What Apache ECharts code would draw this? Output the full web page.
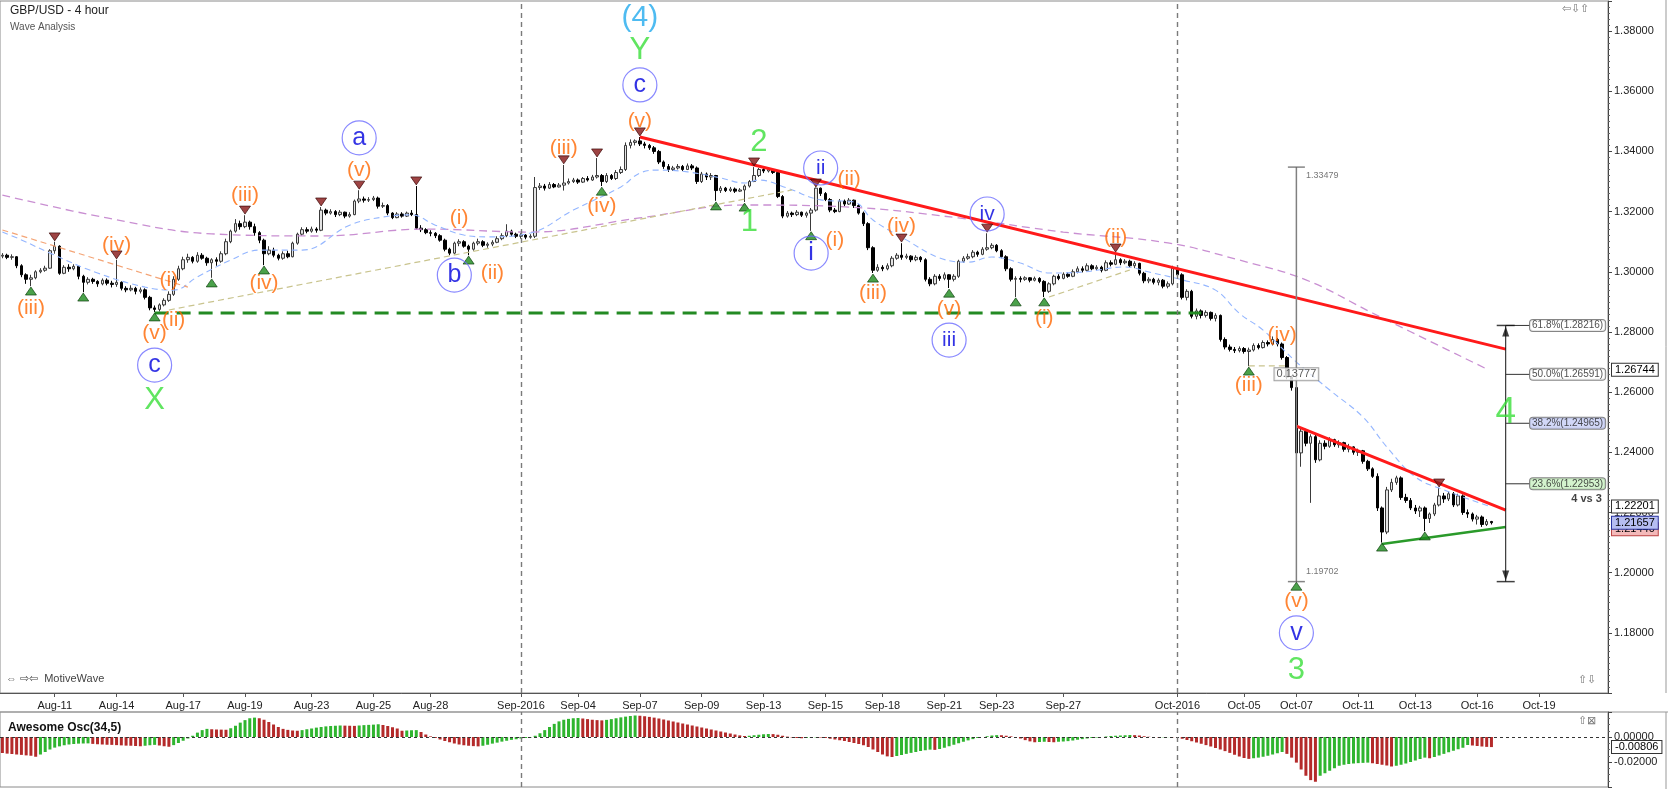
<!DOCTYPE html>
<html><head><meta charset="utf-8">
<script src="https://cdn.jsdelivr.net/npm/echarts/dist/echarts.min.js"></script>
<style>html,body{margin:0;padding:0;background:#fff}#c{width:1668px;height:789px}</style>
</head><body><div id="c"></div>
<script>
// ---------------- DATA ----------------
const SLOT_COUNT = 338;
const dateTicks = [['Aug-11',11],['Aug-14',24],['Aug-17',38],['Aug-19',51],['Aug-23',65],['Aug-25',78],['Aug-28',90],['Sep-2016',109],['Sep-04',121],['Sep-07',134],['Sep-09',147],['Sep-13',160],['Sep-15',173],['Sep-18',185],['Sep-21',198],['Sep-23',209],['Sep-27',223],['Oct-2016',247],['Oct-05',261],['Oct-07',272],['Oct-11',285],['Oct-13',297],['Oct-16',310],['Oct-19',323]];
const monthSeparators = [109, 247];
const priceTicks = {min: 1.16, max: 1.39, step: 0.02};
const oscTicks = {min: -0.04, max: 0.02, step: 0.02};

// GBP/USD 4h candles, prices in pips (x 1/10000); open = previous close
const firstOpen = 13052;
const closes = [
13055,13048,13050,13020,12990,12975,12980,13000,13005,13012,
13070,13085,12995,13015,13010,13018,12985,12965,12975,12968,
12960,12972,12962,12958,12965,12945,12940,12945,12935,12940,
12915,12880,12875,12890,12905,12925,12975,13010,13040,13048,
13035,13055,13045,13030,13040,13035,13060,13100,13135,13160,
13150,13165,13150,13130,13105,13060,13072,13055,13045,13060,
13050,13095,13125,13140,13135,13142,13138,13205,13195,13200,
13190,13198,13185,13190,13235,13242,13238,13240,13245,13218,
13220,13195,13180,13192,13185,13195,13190,13145,13140,13130,
13128,13120,13105,13075,13062,13095,13100,13085,13075,13095,
13100,13088,13092,13098,13110,13120,13135,13125,13118,13122,
13115,13118,13280,13285,13278,13290,13282,13288,13295,13300,
13305,13298,13310,13305,13315,13320,13300,13320,13310,13330,
13340,13420,13430,13435,13425,13420,13412,13400,13365,13350,
13340,13345,13350,13340,13352,13345,13300,13325,13315,13320,
13270,13278,13270,13275,13268,13272,13285,13300,13320,13340,
13335,13340,13330,13250,13185,13195,13190,13198,13188,13195,
13205,13278,13260,13240,13205,13200,13235,13225,13238,13220,
13195,13160,13080,13005,13015,13010,13020,13045,13055,13048,
13052,13040,13048,13040,12975,12960,12985,12978,12990,12975,
12985,13035,13045,13050,13065,13058,13075,13080,13088,13070,
13050,13010,12975,12978,12975,12980,12972,12978,12968,12935,
12960,12985,12978,12992,12985,13000,13010,13005,13020,13010,
13015,13005,13030,13025,13040,13030,13035,13020,13028,12995,
12970,12975,12965,12972,12952,12960,13012,12990,12915,12935,
12852,12870,12855,12865,12845,12855,12775,12750,12742,12738,
12745,12735,12740,12755,12748,12765,12760,12775,12760,12715,
12650,12615,12398,12470,12430,12452,12375,12430,12420,12442,
12425,12432,12410,12418,12400,12405,12370,12345,12320,12215,
12135,12275,12300,12315,12250,12240,12215,12205,12215,12180,
12195,12225,12255,12245,12262,12225,12255,12200,12195,12178,
12185,12160,12170,12166];
const highs = [
13062,13060,13058,13052,13025,12995,12990,13005,13012,13020,
13075,13100,13088,13022,13025,13025,13020,12990,12982,12980,
12972,12978,12978,12970,13040,12968,12952,12955,12950,12948,
12945,12920,12888,12895,12912,12935,12985,13020,13050,13060,
13052,13065,13062,13050,13045,13048,13068,13110,13140,13175,
13170,13188,13170,13160,13135,13110,13085,13080,13060,13068,
13070,13100,13130,13148,13148,13150,13148,13215,13210,13208,
13205,13205,13200,13198,13240,13271,13250,13248,13252,13250,
13230,13225,13198,13198,13198,13200,13205,13285,13155,13145,
13138,13132,13125,13110,13080,13100,13108,13105,13090,13100,
13110,13105,13098,13105,13118,13128,13158,13140,13130,13128,
13125,13125,13315,13295,13292,13298,13295,13295,13355,13310,
13312,13310,13315,13318,13322,13378,13325,13328,13325,13338,
13350,13430,13440,13440,13448,13432,13425,13418,13405,13370,
13358,13352,13358,13355,13360,13358,13350,13332,13330,13328,
13322,13285,13282,13282,13280,13278,13290,13305,13348,13345,
13345,13346,13342,13335,13255,13202,13200,13205,13200,13200,
13212,13280,13280,13265,13245,13212,13242,13240,13245,13240,
13225,13200,13165,13085,13025,13022,13028,13052,13062,13095,
13060,13055,13055,13052,13045,12982,12992,12992,12998,12992,
12992,13040,13052,13060,13072,13070,13082,13128,13095,13092,
13075,13055,13015,12985,12985,12985,12982,12984,12982,12972,
12965,12990,12992,12998,12998,13008,13018,13018,13028,13025,
13022,13020,13038,13038,13062,13045,13042,13040,13035,13030,
13000,12982,12980,12978,12976,12968,13020,13015,12995,12942,
12940,12878,12875,12872,12868,12862,12858,12782,12758,12750,
12752,12750,12748,12762,12762,12772,12772,12785,12780,12765,
12720,12655,12620,12480,12478,12460,12462,12440,12440,12450,
12445,12440,12435,12428,12420,12412,12408,12375,12350,12330,
12220,12285,12312,12322,12320,12262,12248,12225,12222,12220,
12200,12232,12282,12265,12270,12268,12262,12260,12210,12200,
12192,12190,12178,12172];
const lows = [
13045,13042,13040,13012,12982,12960,12952,12975,12995,13000,
13010,13060,12990,12992,13000,13005,12975,12932,12958,12960,
12950,12955,12955,12948,12950,12938,12932,12935,12925,12928,
12908,12872,12866,12868,12885,12900,12920,12970,13005,13030,
13028,13030,13040,13020,12980,13020,13030,13055,13095,13130,
13140,13145,13140,13120,13095,13022,13055,13048,13038,13040,
13045,13048,13090,13120,13128,13130,13130,13135,13188,13190,
13182,13185,13178,13180,13188,13228,13230,13232,13235,13210,
13212,13188,13175,13178,13180,13182,13185,13140,13132,13125,
13118,13112,13100,13068,13055,13058,13085,13080,13055,13070,
13088,13082,13080,13085,13095,13105,13115,13118,13112,13110,
13108,13110,13112,13272,13270,13275,13278,13280,13270,13290,
13295,13292,13295,13300,13302,13310,13285,13295,13305,13305,
13325,13335,13410,13420,13418,13410,13405,13392,13358,13342,
13332,13335,13340,13335,13338,13338,13292,13295,13305,13305,
13236,13262,13265,13265,13262,13265,13232,13280,13298,13315,
13328,13330,13325,13245,13178,13180,13182,13185,13182,13180,
13136,13200,13252,13235,13198,13195,13198,13218,13222,13212,
13190,13152,13072,12996,13000,13002,13005,13015,13040,13040,
13042,13032,13035,13032,12968,12952,12955,12970,12972,12946,
12968,12980,13030,13040,13045,13050,13055,13070,13075,13065,
13045,13002,12968,12916,12965,12970,12965,12968,12962,12916,
12930,12955,12972,12975,12980,12982,12995,12998,13002,13005,
13005,12998,13002,13018,13022,13022,13025,13015,13012,12988,
12962,12962,12958,12955,12945,12945,12955,12982,12908,12905,
12845,12842,12845,12848,12838,12835,12768,12742,12735,12730,
12732,12728,12686,12735,12742,12745,12752,12755,12752,12708,
12642,12605,11970,12352,12420,12232,12365,12370,12410,12415,
12418,12415,12402,12400,12392,12388,12362,12338,12315,12205,
12100,12128,12268,12292,12242,12232,12208,12195,12185,12138,
12165,12188,12220,12232,12238,12218,12220,12192,12182,12170,
12160,12152,12155,12160];

// Awesome Oscillator (34,5), x 1/10000
const aoValues = [
-128,-133,-136,-140,-143,-147,-150,-158,-140,-120,
-100,-85,-75,-66,-60,-56,-53,-52,-51,-55,
-58,-60,-62,-63,-65,-67,-69,-70,-72,-74,
-70,-66,-63,-68,-74,-78,-65,-48,-30,-12,
10,35,55,65,62,60,59,58,70,90,
115,135,150,155,150,138,120,100,80,65,
57,52,50,55,62,68,75,80,85,88,
90,92,91,90,89,92,95,97,99,102,
96,88,78,68,50,52,54,55,40,20,
5,-8,-20,-32,-42,-52,-60,-66,-70,-73,
-75,-70,-62,-53,-45,-37,-30,-23,-18,-12,
-8,-3,10,30,55,80,105,125,138,145,
150,152,148,143,138,135,133,137,143,150,
157,163,168,172,170,166,161,155,148,140,
132,124,116,108,100,92,84,76,68,60,
52,44,36,28,20,13,8,10,14,18,
22,24,23,18,10,3,-4,-8,-10,-8,
-5,-3,-4,-8,-14,-20,-26,-32,-40,-48,
-56,-66,-80,-100,-120,-140,-155,-160,-152,-144,
-135,-127,-120,-112,-106,-101,-103,-96,-86,-74,
-62,-50,-38,-27,-17,-8,0,6,12,15,
14,10,5,0,-12,-25,-35,-42,-40,-38,
-40,-42,-38,-36,-33,-28,-22,-17,-12,-8,
-4,0,4,8,10,12,14,16,15,12,
6,2,-1,-3,-2,-1,-2,-6,-14,-24,
-34,-44,-54,-65,-76,-88,-100,-113,-127,-142,
-156,-168,-175,-170,-165,-158,-150,-140,-130,-120,
-135,-165,-205,-260,-310,-345,-358,-310,-290,-270,
-250,-230,-222,-216,-212,-209,-207,-205,-210,-216,
-222,-228,-236,-230,-222,-212,-200,-188,-176,-165,
-170,-160,-148,-135,-122,-110,-98,-86,-64,-68,
-72,-76,-79,-80.6];

// moving averages: [bar, pips]
const slowMA = [[0,13255],[22,13179],[44,13126],[67,13119],[89,13142],[111,13132],[134,13179],[156,13222],[178,13215],[201,13179],[223,13132],[245,13096],[260,13039],[274,12973],[288,12863],[312,12677]];
const fastMA = [[0,13132],[4,13106],[10,13062],[20,12996],[30,12949],[36,12939],[41,12983],[48,13039],[54,13072],[63,13072],[73,13155],[80,13182],[86,13189],[91,13155],[97,13122],[102,13116],[111,13129],[120,13205],[130,13282],[134,13328],[138,13338],[144,13332],[151,13312],[156,13295],[159,13305],[165,13278],[172,13239],[179,13232],[183,13172],[190,13106],[197,13046],[203,13032],[208,13049],[214,13029],[220,12996],[227,12999],[236,13016],[241,12999],[248,12973],[255,12939],[260,12862],[265,12806],[272,12700],[279,12607],[286,12517],[291,12418],[297,12318],[303,12275],[313,12218]];

// drawn trend lines: [bar, pips]
const mainResistance = [[134,13448],[316,12743]];
const triangleTop = [[272,12487],[316,12208]];
const triangleBottom = [[290,12095],[316,12152]];
const supportLevel = [[32,12863],[252,12863]];
const guideLines = [
  [[35,12873],[166,13272]],
  [[220,12916],[237,13006]],
  [[262,12687],[270,12687]]
];
const leftGuide = [[0,13139],[39,12949]];

// wave labels: [text, bar, pips]
const minorWaves = [['(iii)',6,12880],['(iv)',24,13089],['(i)',35,12973],['(v)',32,12797],['(ii)',36,12840],['(iii)',51,13255],['(iv)',55,12963],['(v)',75,13338],['(i)',96,13179],['(ii)',103,12996],['(iii)',118,13411],['(iv)',126,13219],['(v)',134,13501],['(i)',175,13106],['(ii)',178,13308],['(iii)',183,12930],['(iv)',189,13152],['(v)',199,12876],['(i)',219,12846],['(ii)',234,13116],['(iii)',262,12624],['(iv)',269,12790],['(v)',272,11906]];
const primaryWaves = [['Y',134,13737],['X',32,12571],['2',159,13431],['1',157,13165],['3',272,11676]];
const wave4 = [['4',316,12531]];
const cycleWaves = [['(4)',134,13843]];
const circledWaves = [['c',134,13621],['a',75,13445],['c',32,12690],['b',95,12989],['ii',172,13345],['i',170,13062],['iii',199,12773],['iv',207,13192],['v',272,11800]];
const swingLows = [[6,12936],[17,12916],[32,12850],[44,12963],[55,13006],[98,13039],[126,13268],[150,13219],[156,13215],[170,13120],[183,12979],[199,12929],[213,12900],[219,12900],[262,12670],[272,11955],[290,12085],[299,12122]];
const swingHighs = [[11,13116],[24,13056],[51,13205],[67,13232],[75,13288],[87,13302],[118,13372],[125,13395],[134,13465],[158,13365],[171,13295],[189,13112],[207,13145],[234,13079],[302,12298]];

// measure & fibonacci tools
const measureBar = 272, measureHigh = 1.33479, measureLow = 1.19702;
const fibBar = 316, fibLabelBar = 321;
const fibRatios = [0.618, 0.5, 0.382, 0.236];
const fibColors = ['#ffffff', '#ffffff', '#c6cdf5', '#c9f0c2'];
const noteText = ['4 vs 3', 333, 12245];
const priceTags = [
  {v: 1.26744, bg: '#ffffff', bc: '#333'},
  {v: 1.22201, bg: '#ffffff', bc: '#333'},
  {v: 1.21440, bg: '#f3b9b9', bc: '#b44'},
  {v: 1.21657, bg: '#b6bdf2', bc: '#2a35a0'}
];

// ---------------- BUILD ----------------
const FONT = 'Liberation Sans, Arial, Helvetica, sans-serif';
const P = v => v / 10000;
const pts = arr => arr.map(([i, v]) => [i, P(v)]);
const categories = Array.from({length: SLOT_COUNT}, (_, i) => '#' + i);
dateTicks.forEach(([t, i]) => { categories[i] = t; });
const isTick = (idx, val) => typeof val === 'string' && val.charAt(0) !== '#';

const candleData = closes.map((c, i) => {
  const o = i === 0 ? firstOpen : closes[i - 1];
  const h = Math.max(highs[i], o, c), l = Math.min(lows[i], o, c);
  return [P(o), P(c), P(l), P(h)];
});
const aoData = aoValues.map((v, i) => ({
  value: v / 10000,
  itemStyle: {color: (i > 0 && v > aoValues[i - 1]) ? '#2fb52f' : '#b42a2a'}
}));

function lineSeries(data, color, width, type, z, extra) {
  return Object.assign({
    type: 'line', xAxisIndex: 0, yAxisIndex: 0, data, symbol: 'none', silent: true, z: z || 4,
    lineStyle: {color, width, type: type || 'solid'}, animation: false
  }, extra || {});
}
function textSeries(items, color, size, weight, z) {
  return {
    type: 'scatter', xAxisIndex: 0, yAxisIndex: 0, silent: true, z: z || 10,
    symbol: 'circle', symbolSize: 1, itemStyle: {color: 'rgba(0,0,0,0)'},
    label: {show: true, position: 'inside', color, fontSize: size, fontFamily: FONT, fontWeight: weight || 'normal', formatter: p => p.data.name},
    data: items.map(([t, i, v]) => ({name: t, value: [i, P(v)]}))
  };
}
function tagLabel(text, bg, bc) {
  return {show: true, position: 'end', distance: 4, formatter: text, fontSize: 11, fontFamily: FONT, color: '#000',
    backgroundColor: bg, borderColor: bc, borderWidth: 1, padding: [1, 3, 0, 3]};
}
const hiddenLine = {color: 'rgba(0,0,0,0)', width: 1, type: 'solid'};

const fibLevels = fibRatios.map(r => measureLow + r * (measureHigh - measureLow));
const sepLine = {lineStyle: {color: '#7a7a7a', type: [5, 4], width: 1.4}};
const lastAO = aoValues[aoValues.length - 1] / 10000;

const series = [
  {
    type: 'candlestick', name: 'GBP/USD', xAxisIndex: 0, yAxisIndex: 0, data: candleData, barWidth: 3, z: 2,
    itemStyle: {color: '#e4e4e4', color0: '#000', borderColor: '#3a3a3a', borderColor0: '#000', borderWidth: 1},
    markLine: {silent: true, symbol: 'none', label: {show: false}, animation: false,
      data: monthSeparators.map(i => Object.assign({xAxis: i}, sepLine))}
  },
  lineSeries(pts(slowMA), '#c98fd2', 1.3, [8, 5], 3, {smooth: 0.4}),
  {type: 'line', xAxisIndex: 0, yAxisIndex: 0, data: [], silent: true, z: 12,
    markLine: {silent: true, symbol: 'none', animation: false, precision: 5,
      data: priceTags.map(t => ({yAxis: t.v, lineStyle: hiddenLine, label: tagLabel(t.v.toFixed(5), t.bg, t.bc)}))}},
  lineSeries(pts(fastMA), '#94b6ff', 1.1, [6, 4], 3, {smooth: 0.4}),
  lineSeries(pts(leftGuide), '#f4a577', 1.2, [6, 4], 3),
  ...guideLines.map(g => lineSeries(pts(g), '#c9c48e', 1.2, [6, 4], 3)),
  lineSeries(pts(supportLevel), '#238a23', 3, [14, 8], 4),
  lineSeries(pts(mainResistance), '#ff1a1a', 3, 'solid', 5),
  lineSeries(pts(triangleTop), '#ff1a1a', 3, 'solid', 5),
  lineSeries(pts(triangleBottom), '#2a9a2a', 2.5, 'solid', 5),
  // measure tool
  lineSeries([[measureBar, measureHigh], [measureBar, measureLow]], '#808080', 1.5, 'solid', 6),
  {type: 'scatter', silent: true, z: 6, symbol: 'rect', symbolSize: [17, 1.5], itemStyle: {color: '#666'},
    data: [[measureBar, measureHigh], [measureBar, measureLow]]},
  {type: 'scatter', silent: true, z: 11, symbol: 'circle', symbolSize: 1, itemStyle: {color: 'rgba(0,0,0,0)'},
    data: [
      {value: [measureBar, measureHigh], label: {show: true, position: 'right', distance: 9, offset: [0, 8], formatter: measureHigh.toFixed(5), fontSize: 9, color: '#555', fontFamily: FONT}},
      {value: [measureBar, measureLow], label: {show: true, position: 'right', distance: 9, offset: [0, -10], formatter: measureLow.toFixed(5), fontSize: 9, color: '#555', fontFamily: FONT}},
      {value: [measureBar, (measureHigh + measureLow) / 2], label: {show: true, position: 'inside', formatter: (measureHigh - measureLow).toFixed(5), fontSize: 11, color: '#333', fontFamily: FONT, backgroundColor: '#fff', borderColor: '#888', borderWidth: 1, padding: [1, 2, 0, 2]}}
    ]},
  // fibonacci tool
  lineSeries([[fibBar, fibLevels[0]], [fibBar, measureLow]], '#111', 1, 'solid', 6),
  ...fibLevels.map(lv => lineSeries([[fibBar, lv], [fibLabelBar, lv]], '#333', 1, 'solid', 6)),
  {type: 'scatter', silent: true, z: 6, symbol: 'rect', symbolSize: [18, 1.5], itemStyle: {color: '#111'},
    data: [[fibBar, fibLevels[0]], [fibBar, measureLow]]},
  {type: 'scatter', silent: true, z: 6, symbol: 'triangle', symbolSize: [7, 10], itemStyle: {color: '#111'},
    data: [{value: [fibBar, fibLevels[0]], symbolOffset: [0, 6]}, {value: [fibBar, measureLow], symbolOffset: [0, -6], symbolRotate: 180}]},
  {type: 'scatter', silent: true, z: 11, symbol: 'circle', symbolSize: 1, itemStyle: {color: 'rgba(0,0,0,0)'},
    data: fibLevels.map((lv, k) => ({value: [fibLabelBar, lv], label: {show: true, position: 'right', distance: 0,
      formatter: (fibRatios[k] * 100).toFixed(1) + '%(' + lv.toFixed(5) + ')', fontSize: 10, color: '#222', fontFamily: FONT,
      backgroundColor: fibColors[k], borderColor: '#666', borderWidth: 1, borderRadius: 3, padding: [1, 2, 0, 2]}}))},
  // swing markers
  {type: 'scatter', silent: true, z: 7, symbol: 'triangle', symbolSize: [11, 8],
    itemStyle: {color: '#1d8a1d', borderColor: '#063806', borderWidth: 0.8}, data: pts(swingLows)},
  {type: 'scatter', silent: true, z: 7, symbol: 'triangle', symbolSize: [11, 8], symbolRotate: 180,
    itemStyle: {color: '#861515', borderColor: '#300', borderWidth: 0.8}, data: pts(swingHighs)},
  // wave labels
  textSeries(minorWaves, '#ff6600', 21),
  textSeries(primaryWaves, '#3ade3a', 31),
  textSeries(wave4, '#3ade3a', 37),
  textSeries(cycleWaves, '#22aaee', 30),
  {type: 'scatter', silent: true, z: 9, symbol: 'circle', symbolSize: 34,
    itemStyle: {color: 'rgba(255,255,255,0)', borderColor: '#6c6cff', borderWidth: 1.2},
    label: {show: true, position: 'inside', color: '#0000dd', fontFamily: FONT, formatter: p => p.data.name},
    data: circledWaves.map(([t, i, v]) => ({name: t, value: [i, P(v)], label: {fontSize: t.length > 1 ? 21 : 25}}))},
  textSeries([noteText], '#111', 11, 'bold'),
  // oscillator
  {type: 'bar', name: 'Awesome Osc', xAxisIndex: 1, yAxisIndex: 1, data: aoData, barWidth: 3, silent: true,
    markLine: {silent: true, symbol: 'none', animation: false,
      data: [
        {yAxis: 0, lineStyle: {color: '#333', type: [3, 3], width: 1}, label: {show: false}},
        ...monthSeparators.map(i => Object.assign({xAxis: i, label: {show: false}}, sepLine))
      ]}},
  {type: 'line', xAxisIndex: 1, yAxisIndex: 1, data: [], silent: true, z: 12,
    markLine: {silent: true, symbol: 'none', animation: false, precision: 5,
      data: [{yAxis: lastAO, lineStyle: hiddenLine, label: tagLabel(lastAO.toFixed(5), '#fff', '#333')}]}}
];

const axisLabelStyle = {fontSize: 11, color: '#222', fontFamily: FONT};
const option = {
  animation: false,
  backgroundColor: '#ffffff',
  grid: [
    {left: 0, right: 60, top: 1, height: 692, show: true, borderColor: '#8a8a8a', borderWidth: 1},
    {left: 0, right: 60, top: 712, height: 75, show: true, borderColor: '#8a8a8a', borderWidth: 1}
  ],
  xAxis: [
    {type: 'category', gridIndex: 0, data: categories, boundaryGap: true,
      axisLine: {show: true, lineStyle: {color: '#555'}},
      axisTick: {show: true, alignWithLabel: true, interval: isTick, length: 4, lineStyle: {color: '#555'}},
      axisLabel: Object.assign({interval: isTick, margin: 7}, axisLabelStyle),
      splitLine: {show: false}},
    {type: 'category', gridIndex: 1, data: categories, boundaryGap: true,
      axisLine: {show: false}, axisTick: {show: false}, axisLabel: {show: false}, splitLine: {show: false}}
  ],
  yAxis: [
    {type: 'value', gridIndex: 0, position: 'right', min: priceTicks.min, max: priceTicks.max, interval: priceTicks.step,
      axisLine: {show: true, lineStyle: {color: '#444'}},
      axisTick: {show: true, length: 4, lineStyle: {color: '#444'}},
      minorTick: {show: true, splitNumber: 10, length: 2, lineStyle: {color: '#666'}},
      axisLabel: Object.assign({showMinLabel: false, showMaxLabel: false, margin: 6, formatter: v => v.toFixed(5)}, axisLabelStyle),
      splitLine: {show: false}},
    {type: 'value', gridIndex: 1, position: 'right', min: oscTicks.min, max: oscTicks.max, interval: oscTicks.step,
      axisLine: {show: true, lineStyle: {color: '#444'}},
      axisTick: {show: true, length: 4, lineStyle: {color: '#444'}},
      minorTick: {show: true, splitNumber: 4, length: 2, lineStyle: {color: '#666'}},
      axisLabel: Object.assign({showMinLabel: false, showMaxLabel: false, margin: 6, formatter: v => v.toFixed(5)}, axisLabelStyle),
      splitLine: {show: false}}
  ],
  graphic: [
    {type: 'text', left: 10, top: 5, style: {text: 'GBP/USD - 4 hour', fontSize: 12, fill: '#222', fontFamily: FONT}},
    {type: 'text', left: 10, top: 22, style: {text: 'Wave Analysis', fontSize: 10, fill: '#555', fontFamily: FONT}},
    {type: 'text', left: 6, top: 673, style: {text: '\u21d4 \u21e8\u21e6  MotiveWave', fontSize: 11, fill: '#444', fontFamily: FONT}},
    {type: 'text', left: 8, top: 722, style: {text: 'Awesome Osc(34,5)', fontSize: 12, fontWeight: 'bold', fill: '#111', fontFamily: FONT}},
    {type: 'text', left: 1562, top: 3, style: {text: '\u21e6\u21e9\u21e7', fontSize: 11, fill: '#777', fontFamily: FONT}},
    {type: 'text', left: 1578, top: 674, style: {text: '\u21e7\u21e9', fontSize: 11, fill: '#777', fontFamily: FONT}},
    {type: 'text', left: 1578, top: 715, style: {text: '\u21e7\u22a0', fontSize: 11, fill: '#777', fontFamily: FONT}},
    {type: 'line', shape: {x1: 1666, y1: 0, x2: 1666, y2: 693}, style: {stroke: '#999', lineWidth: 1}},
    {type: 'line', shape: {x1: 1666, y1: 712, x2: 1666, y2: 789}, style: {stroke: '#999', lineWidth: 1}},
    {type: 'line', shape: {x1: 0, y1: 712, x2: 1668, y2: 712}, style: {stroke: '#999', lineWidth: 1}}
  ],
  series
};

const chart = echarts.init(document.getElementById('c'));
chart.setOption(option);
</script>
</body></html>
